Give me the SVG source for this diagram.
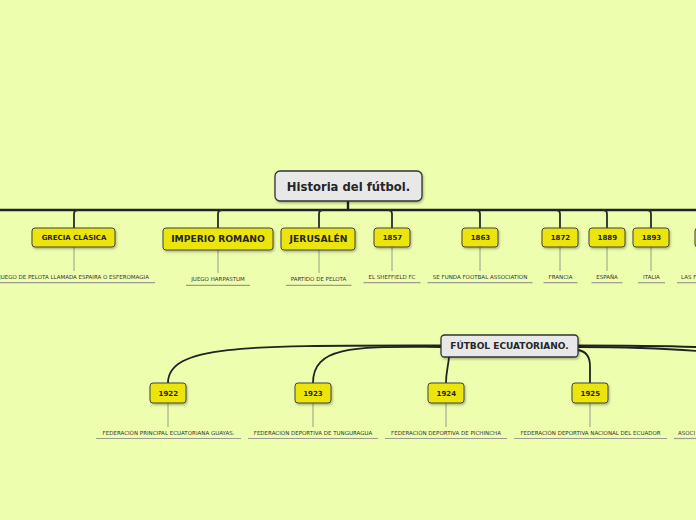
<svg xmlns="http://www.w3.org/2000/svg" width="696" height="520" viewBox="0 0 696 520">
<defs>
<filter id="sh" x="-20%" y="-20%" width="140%" height="160%">
<feDropShadow dx="1" dy="1.5" stdDeviation="1" flood-color="#000" flood-opacity="0.3"/>
</filter>
<style>
.bg{fill:#edffae}
.root{fill:#e8e8e8;stroke:#333;stroke-width:1.3}
.node{fill:#ebe50b;stroke:#444;stroke-width:1}
.t{font-family:"DejaVu Sans",Verdana,sans-serif;font-weight:bold;fill:#262626;text-anchor:middle}
.lbl{font-family:"DejaVu Sans",Verdana,sans-serif;font-size:5.5px;fill:#333;text-anchor:middle}
.main{fill:none;stroke:#222;stroke-width:2.4}
.br{fill:none;stroke:#2a2a2a;stroke-width:1.8}
.cv{fill:none;stroke:#222;stroke-width:1.8}
.sub{fill:none;stroke:#9a9a8a;stroke-width:1}
.ul{fill:none;stroke:#9c9c8c;stroke-width:1.2}
</style>
</defs>
<rect class="bg" x="0" y="0" width="696" height="520"/>

<g id="connectors">
<line class="main" x1="348" y1="201" x2="348" y2="210"/>
<line class="main" x1="0" y1="210" x2="696" y2="210"/>
<path class="br" d="M 78 210 Q 74 210 74 214 L 74 228"/>
<path class="br" d="M 222 210 Q 218 210 218 214 L 218 228"/>
<path class="br" d="M 323 210 Q 319 210 319 214 L 319 228"/>
<path class="br" d="M 388 210 Q 392 210 392 214 L 392 228"/>
<path class="br" d="M 476 210 Q 480 210 480 214 L 480 228"/>
<path class="br" d="M 556 210 Q 560 210 560 214 L 560 228"/>
<path class="br" d="M 603 210 Q 607 210 607 214 L 607 228"/>
<path class="br" d="M 647 210 Q 651 210 651 214 L 651 228"/>

<path class="sub" d="M 74 247 L 74 271"/>
<path class="sub" d="M 218 250 L 218 273"/>
<path class="sub" d="M 319 250 L 319 273"/>
<path class="sub" d="M 392 247 L 392 271"/>
<path class="sub" d="M 480 247 L 480 271"/>
<path class="sub" d="M 560 247 L 560 271"/>
<path class="sub" d="M 607 247 L 607 271"/>
<path class="sub" d="M 651 247 L 651 271"/>

<path class="cv" d="M 441 345.5 C 250 345.5, 168 344, 168 383"/>
<path class="cv" d="M 441 347 C 360 347, 313 344, 313 383"/>
<path class="cv" d="M 449 357 C 448 368, 446 372, 446 383"/>
<path class="cv" d="M 578 350 Q 590 352 590 366 L 590 383"/>
<path class="cv" d="M 578 345.5 C 640 345.5, 680 346, 720 348"/>
<path class="cv" d="M 578 347 C 640 347, 680 349, 720 353"/>

<path class="sub" d="M 168 403 L 168 427"/>
<path class="sub" d="M 313 403 L 313 427"/>
<path class="sub" d="M 446 403 L 446 427"/>
<path class="sub" d="M 590 403 L 590 427"/>
</g>

<g id="root">
<rect class="root" x="275" y="171" width="147" height="30" rx="5" filter="url(#sh)"/>
<text class="t" x="348.5" y="191" font-size="11.6">Historia del fútbol.</text>
</g>

<g id="grecia">
<rect class="node" x="32" y="228" width="83" height="19" rx="3" filter="url(#sh)"/>
<text class="t" x="74" y="240" font-size="7">GRECIA CLÁSICA</text>
<text class="lbl" x="74" y="279">JUEGO DE PELOTA LLAMADA ESPAIRA O ESFEROMAGIA</text>
<line class="ul" x1="-7" y1="282.7" x2="155" y2="282.7"/>
</g>

<g id="imperio">
<rect class="node" x="163" y="228" width="110" height="22" rx="3" filter="url(#sh)"/>
<text class="t" x="218" y="242.3" font-size="9.2">IMPERIO ROMANO</text>
<text class="lbl" x="218" y="281">JUEGO HARPASTUM</text>
<line class="ul" x1="186" y1="285.3" x2="250" y2="285.3"/>
</g>

<g id="jerusalen">
<rect class="node" x="281" y="228" width="74" height="22" rx="3" filter="url(#sh)"/>
<text class="t" x="318.5" y="242.3" font-size="9.2">JERUSALÉN</text>
<text class="lbl" x="318.5" y="281">PARTIDO DE PELOTA</text>
<line class="ul" x1="286" y1="285.3" x2="351.5" y2="285.3"/>
</g>

<g id="n1857">
<rect class="node" x="374" y="228" width="36" height="19" rx="3" filter="url(#sh)"/>
<text class="t" x="392.5" y="240.3" font-size="7">1857</text>
<text class="lbl" x="392" y="279">EL SHEFFIELD FC</text>
<line class="ul" x1="363.5" y1="282.7" x2="420.5" y2="282.7"/>
</g>

<g id="n1863">
<rect class="node" x="462" y="228" width="36" height="19" rx="3" filter="url(#sh)"/>
<text class="t" x="480.5" y="240.3" font-size="7">1863</text>
<text class="lbl" x="480" y="279">SE FUNDA FOOTBAL ASSOCIATION</text>
<line class="ul" x1="427.5" y1="282.7" x2="532.5" y2="282.7"/>
</g>

<g id="n1872">
<rect class="node" x="542" y="228" width="36" height="19" rx="3" filter="url(#sh)"/>
<text class="t" x="560.5" y="240.3" font-size="7">1872</text>
<text class="lbl" x="560.5" y="279">FRANCIA</text>
<line class="ul" x1="543.5" y1="282.7" x2="577.5" y2="282.7"/>
</g>

<g id="n1889">
<rect class="node" x="589" y="228" width="36" height="19" rx="3" filter="url(#sh)"/>
<text class="t" x="607.3" y="240.3" font-size="7">1889</text>
<text class="lbl" x="607" y="279">ESPAÑA</text>
<line class="ul" x1="591.5" y1="282.7" x2="622.5" y2="282.7"/>
</g>

<g id="n1893">
<rect class="node" x="633" y="228" width="36" height="19" rx="3" filter="url(#sh)"/>
<text class="t" x="651.5" y="240.3" font-size="7">1893</text>
<text class="lbl" x="651.5" y="279">ITALIA</text>
<line class="ul" x1="638" y1="282.7" x2="665" y2="282.7"/>
</g>

<g id="nlas">
<rect class="node" x="695" y="228" width="50" height="19" rx="3" filter="url(#sh)"/>
<text class="lbl" x="681" y="279" style="text-anchor:start">LAS F</text>
<line class="ul" x1="677" y1="282.7" x2="700" y2="282.7"/>
</g>

<g id="ecuador">
<rect class="root" x="441" y="335" width="137" height="22" rx="3.5" filter="url(#sh)"/>
<text class="t" x="509.5" y="349.2" font-size="9">FÚTBOL ECUATORIANO.</text>
</g>

<g id="n1922">
<rect class="node" x="150" y="383" width="36" height="20" rx="3" filter="url(#sh)"/>
<text class="t" x="168.3" y="395.6" font-size="7">1922</text>
<text class="lbl" x="168.5" y="435">FEDERACIÓN PRINCIPAL ECUATORIANA GUAYAS.</text>
<line class="ul" x1="96" y1="438.5" x2="241" y2="438.5"/>
</g>

<g id="n1923">
<rect class="node" x="295" y="383" width="36" height="20" rx="3" filter="url(#sh)"/>
<text class="t" x="313" y="395.6" font-size="7">1923</text>
<text class="lbl" x="313" y="435">FEDERACIÓN DEPORTIVA DE TUNGURAGUA</text>
<line class="ul" x1="248" y1="438.5" x2="378" y2="438.5"/>
</g>

<g id="n1924">
<rect class="node" x="428" y="383" width="36" height="20" rx="3" filter="url(#sh)"/>
<text class="t" x="446.3" y="395.6" font-size="7">1924</text>
<text class="lbl" x="446" y="435">FEDERACIÓN DEPORTIVA DE PICHINCHA</text>
<line class="ul" x1="385" y1="438.5" x2="507" y2="438.5"/>
</g>

<g id="n1925">
<rect class="node" x="572" y="383" width="36" height="20" rx="3" filter="url(#sh)"/>
<text class="t" x="590.3" y="395.6" font-size="7">1925</text>
<text class="lbl" x="590.5" y="435">FEDERACIÓN DEPORTIVA NACIONAL DEL ECUADOR</text>
<line class="ul" x1="514" y1="438.5" x2="667" y2="438.5"/>
</g>

<g id="nasoc">
<text class="lbl" x="678" y="435" style="text-anchor:start">ASOCI</text>
<line class="ul" x1="674" y1="438.5" x2="700" y2="438.5"/>
</g>
</svg>
